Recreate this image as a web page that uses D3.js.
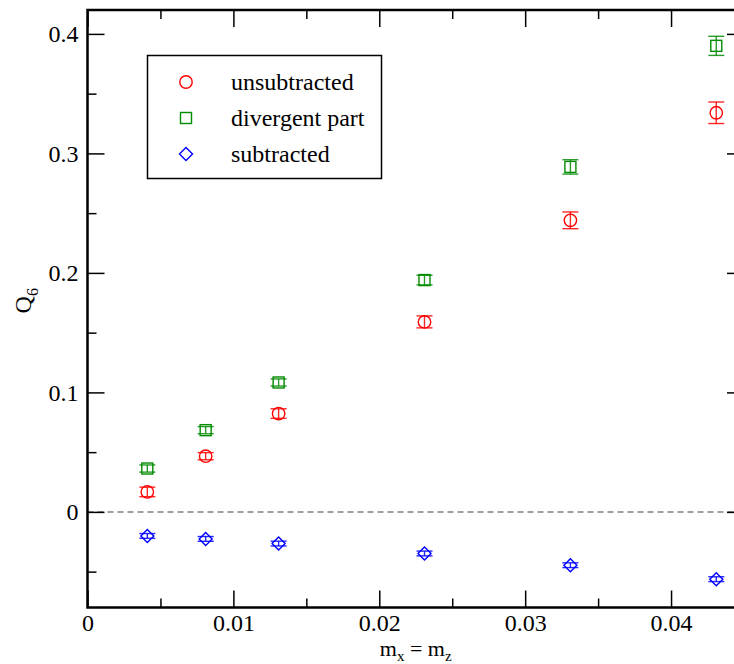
<!DOCTYPE html>
<html>
<head>
<meta charset="utf-8">
<script src="https://cdn.jsdelivr.net/npm/d3@7"></script>
<style>
  body { margin: 0; background: #fff; }
  svg { display: block; }
  svg text { font-family: "Liberation Serif", "Times New Roman", Times, "DejaVu Serif", serif !important; }
</style>
</head>
<body>
<script>
const WIDTH = 734;
const HEIGHT = 664;
const MARGIN = { left: 87.5, right: -10, top: 10, bottom: 56.5 };

// data
const masses = [0.0041, 0.0081, 0.0131, 0.0231, 0.0331, 0.0431];
const unsubtracted = [0.0167, 0.0466, 0.0823, 0.159, 0.244, 0.334];
const unsubtractedErr = [0.004, 0.003, 0.004, 0.005, 0.007, 0.009];
const divergent = [0.0363, 0.0684, 0.1083, 0.194, 0.2887, 0.390];
const divergentErr = [0.003, 0.003, 0.003, 0.004, 0.006, 0.008];
const subtracted = [-0.0201, -0.0226, -0.0265, -0.0348, -0.0446, -0.0563];
const subtractedErr = [0.002, 0.002, 0.002, 0.002, 0.002, 0.002];

const seriesNames = ["unsubtracted", "divergent part", "subtracted"];
const seriesColors = ["#ff0000", "#008b00", "#0000ff"];
const seriesShapes = ["circle", "square", "diamond"];

const xTicks = [0, 0.01, 0.02, 0.03, 0.04];
const xMinor = [0.005, 0.015, 0.025, 0.035, 0.045];
const yTicks = [0, 0.1, 0.2, 0.3, 0.4];
const yMinor = [-0.05, 0.05, 0.15, 0.25, 0.35];

const series = [
  { values: unsubtracted, err: unsubtractedErr },
  { values: divergent, err: divergentErr },
  { values: subtracted, err: subtractedErr },
].map((s, i) => ({
  name: seriesNames[i],
  color: seriesColors[i],
  shape: seriesShapes[i],
  points: masses.map((m, j) => ({ x: m, y: s.values[j], e: s.err[j] })),
}));

const x = d3.scaleLinear([0, 0.045], [MARGIN.left, WIDTH - MARGIN.right]);
const y = d3.scaleLinear([-0.08, 0.42], [HEIGHT - MARGIN.bottom, MARGIN.top]);

const svg = d3.select("body").append("svg")
    .attr("width", WIDTH)
    .attr("height", HEIGHT);

const plotTop = MARGIN.top, plotBottom = HEIGHT - MARGIN.bottom;
const plotLeft = MARGIN.left, plotRight = WIDTH - MARGIN.right;

// zero line
svg.append("line")
    .attr("x1", x(0)).attr("x2", x(0.045))
    .attr("y1", y(0)).attr("y2", y(0))
    .attr("stroke", "#808080")
    .attr("stroke-width", 1.5)
    .attr("stroke-dasharray", "6,4");

function styleAxis(g) {
  g.select(".domain").remove();
  g.selectAll(".tick line").attr("stroke", "#000").attr("stroke-width", 1.5);
  g.selectAll(".tick text")
      .attr("fill", "#000")
      .attr("font-size", 24);
}

// bottom
svg.append("g").attr("transform", `translate(0,${plotBottom})`)
    .call(d3.axisBottom(x).tickValues(xTicks).tickSize(-17).tickPadding(6)
      .tickFormat(d => d === 0 ? "0" : d3.format(".2f")(d)))
    .call(styleAxis);
svg.append("g").attr("transform", `translate(0,${plotBottom})`)
    .call(d3.axisBottom(x).tickValues(xMinor).tickSize(-9).tickFormat(""))
    .call(styleAxis);
// top
svg.append("g").attr("transform", `translate(0,${plotTop})`)
    .call(d3.axisTop(x).tickValues(xTicks).tickSize(-17).tickFormat(""))
    .call(styleAxis);
svg.append("g").attr("transform", `translate(0,${plotTop})`)
    .call(d3.axisTop(x).tickValues(xMinor).tickSize(-9).tickFormat(""))
    .call(styleAxis);
// left
svg.append("g").attr("transform", `translate(${plotLeft},0)`)
    .call(d3.axisLeft(y).tickValues(yTicks).tickSize(-17).tickPadding(9)
      .tickFormat(d => d === 0 ? "0" : d3.format(".1f")(d)))
    .call(styleAxis);
svg.append("g").attr("transform", `translate(${plotLeft},0)`)
    .call(d3.axisLeft(y).tickValues(yMinor).tickSize(-9).tickFormat(""))
    .call(styleAxis);
// right
svg.append("g").attr("transform", `translate(${plotRight},0)`)
    .call(d3.axisRight(y).tickValues(yTicks).tickSize(-17).tickFormat(""))
    .call(styleAxis);
svg.append("g").attr("transform", `translate(${plotRight},0)`)
    .call(d3.axisRight(y).tickValues(yMinor).tickSize(-9).tickFormat(""))
    .call(styleAxis);

// frame
svg.append("rect")
    .attr("x", plotLeft).attr("y", plotTop)
    .attr("width", plotRight - plotLeft).attr("height", plotBottom - plotTop)
    .attr("fill", "none")
    .attr("stroke", "#000")
    .attr("stroke-width", 2.5);

function drawSymbol(g, shape, color) {
  if (shape === "circle") {
    g.append("circle").attr("r", 6.2);
  } else if (shape === "square") {
    g.append("rect").attr("x", -5.5).attr("y", -5.5).attr("width", 11).attr("height", 11);
  } else {
    g.append("path").attr("d", "M0,-6.5L6.5,0L0,6.5L-6.5,0Z");
  }
  g.selectAll("circle,rect,path")
      .attr("fill", "none")
      .attr("stroke", color)
      .attr("stroke-width", 1.4);
}

// series
series.forEach(s => {
  const g = svg.append("g");
  const pts = g.selectAll("g").data(s.points).join("g")
      .attr("transform", d => `translate(${x(d.x)},${y(d.y)})`);
  pts.each(function(d) { drawSymbol(d3.select(this), s.shape, s.color); });
  const bars = g.append("g")
      .attr("stroke", s.color)
      .attr("stroke-width", 1.4)
      .attr("stroke-opacity", 0.85);
  bars.selectAll(".stem").data(s.points).join("line")
      .attr("class", "stem")
      .attr("x1", d => x(d.x)).attr("x2", d => x(d.x))
      .attr("y1", d => y(d.y - d.e)).attr("y2", d => y(d.y + d.e));
  bars.selectAll(".capHi").data(s.points).join("line")
      .attr("class", "capHi")
      .attr("x1", d => x(d.x) - 8).attr("x2", d => x(d.x) + 8)
      .attr("y1", d => y(d.y + d.e)).attr("y2", d => y(d.y + d.e));
  bars.selectAll(".capLo").data(s.points).join("line")
      .attr("class", "capLo")
      .attr("x1", d => x(d.x) - 8).attr("x2", d => x(d.x) + 8)
      .attr("y1", d => y(d.y - d.e)).attr("y2", d => y(d.y - d.e));
});

// legend
const legend = svg.append("g");
legend.append("rect")
    .attr("x", 147.5).attr("y", 55.5)
    .attr("width", 234).attr("height", 123)
    .attr("fill", "#fff")
    .attr("stroke", "#000")
    .attr("stroke-width", 1.5);
const rowY = d3.scalePoint().domain(seriesNames).range([82, 154]);
series.forEach(s => {
  const row = legend.append("g").attr("transform", `translate(186,${rowY(s.name)})`);
  drawSymbol(row, s.shape, s.color);
  legend.append("text")
      .attr("x", 231)
      .attr("y", rowY(s.name) + 7.5)
      .attr("font-size", 24)
      .attr("fill", "#000")
      .text(s.name);
});

// axis titles
const xt = svg.append("text")
    .attr("x", (plotLeft + plotRight) / 2)
    .attr("y", 656)
    .attr("text-anchor", "middle")
    .attr("font-size", 22)
    .attr("fill", "#000");
xt.append("tspan").text("m");
xt.append("tspan").attr("font-size", 15).attr("dy", 5).text("x");
xt.append("tspan").attr("dy", -5).text(" = m");
xt.append("tspan").attr("font-size", 15).attr("dy", 5).text("z");

const yt = svg.append("text")
    .attr("transform", `translate(31,${(plotTop + plotBottom) / 2 - 8}) rotate(-90)`)
    .attr("text-anchor", "middle")
    .attr("font-size", 24)
    .attr("fill", "#000");
yt.append("tspan").text("Q");
yt.append("tspan").attr("font-size", 16).attr("dy", 7).text("6");
</script>
</body>
</html>
